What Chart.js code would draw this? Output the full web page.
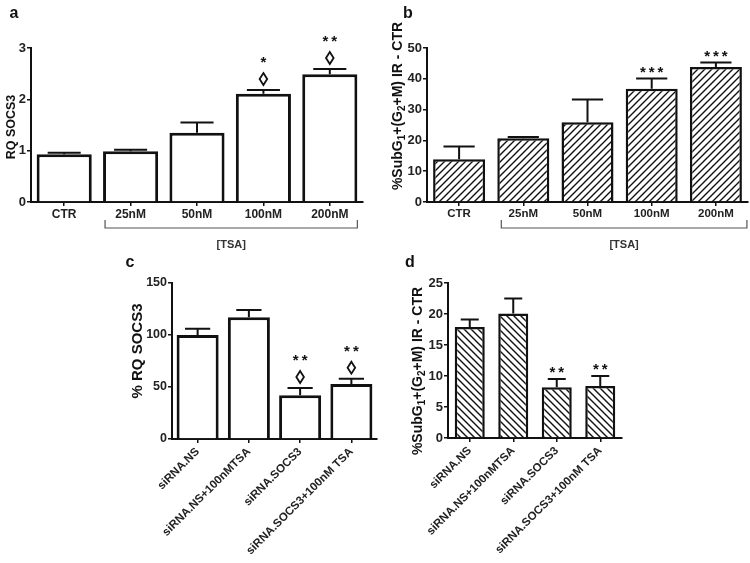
<!DOCTYPE html>
<html>
<head>
<meta charset="UTF-8">
<title>SOCS3 / TSA</title>
<script src="https://cdn.jsdelivr.net/npm/chart.js"></script>
<style>
  body { margin: 0; background: #fff; }
  #wrap { position: relative; width: 750px; height: 563px; }
  canvas { position: absolute; }
</style>
</head>
<body>
<div id="wrap">
  <canvas id="chartA" width="375" height="255" style="left:0;top:0"></canvas>
  <canvas id="chartB" width="375" height="255" style="left:375px;top:0"></canvas>
  <canvas id="chartC" width="290" height="308" style="left:100px;top:255px"></canvas>
  <canvas id="chartD" width="250" height="308" style="left:390px;top:255px"></canvas>
</div>
<script>
// panel a / b : TSA dose
const tsaLabels = ['CTR', '25nM', '50nM', '100nM', '200nM'];
const rqSocs3 = [0.93, 0.99, 1.35, 2.11, 2.49];
const rqSocs3Sem = [0.03, 0.03, 0.20, 0.07, 0.10];
const rqSocs3Stars = ['', '', '', '*', '**'];
const rqSocs3Diamond = [false, false, false, true, true];

const subG = [13.9, 20.7, 25.9, 36.8, 43.8];
const subGSem = [4.1, 0.4, 7.4, 3.3, 1.5];
const subGStars = ['', '', '', '***', '***'];

// panel c / d : siRNA
const siLabels = ['siRNA.NS', 'siRNA.NS+100nMTSA', 'siRNA.SOCS3', 'siRNA.SOCS3+100nM TSA'];
const pctRq = [100, 117, 42, 53];
const pctRqSem = [6, 7, 7, 5];
const pctRqStars = ['', '', '**', '**'];
const pctRqDiamond = [false, false, true, true];

const siSubG = [17.9, 20.1, 8.2, 8.4];
const siSubGSem = [1.2, 2.4, 1.3, 1.6];
const siSubGStars = ['', '', '**', '**'];

const INK = '#111';
const FONT = '"Liberation Sans", Arial, sans-serif';

// hatch fill
function hatch(dir) {
  const s = 7;
  const c = document.createElement('canvas');
  c.width = s; c.height = s;
  const g = c.getContext('2d');
  g.fillStyle = '#fff';
  g.fillRect(0, 0, s, s);
  g.strokeStyle = INK;
  g.lineWidth = 1.4;
  g.beginPath();
  if (dir === '/') {
    g.moveTo(-1, s + 1); g.lineTo(s + 1, -1);
    g.moveTo(-1, 1); g.lineTo(1, -1);
    g.moveTo(s - 1, s + 1); g.lineTo(s + 1, s - 1);
  } else {
    g.moveTo(-1, -1); g.lineTo(s + 1, s + 1);
    g.moveTo(s - 1, -1); g.lineTo(s + 1, 1);
    g.moveTo(-1, s - 1); g.lineTo(1, s + 1);
  }
  g.stroke();
  return g.createPattern(c, 'repeat');
}

// error bars, stars, diamonds, letters, axis titles, bracket
const decor = {
  id: 'decor',
  afterDatasetsDraw(chart, args, o) {
    const ctx = chart.ctx;
    const meta = chart.getDatasetMeta(0);
    const ys = chart.scales.y;
    const vals = chart.data.datasets[0].data;
    ctx.save();
    ctx.strokeStyle = INK;
    ctx.fillStyle = INK;
    ctx.lineWidth = 2;
    ctx.textAlign = 'center';
    ctx.textBaseline = 'middle';
    meta.data.forEach((bar, i) => {
      const top = ys.getPixelForValue(vals[i] + o.sem[i]);
      const half = bar.width * 0.3;
      ctx.beginPath();
      ctx.moveTo(bar.x, bar.y);
      ctx.lineTo(bar.x, top);
      ctx.moveTo(bar.x - half, top);
      ctx.lineTo(bar.x + half, top);
      ctx.stroke();
      let starY = top - 10;
      if (o.diamonds && o.diamonds[i]) {
        const cy = top - 11;
        ctx.beginPath();
        ctx.moveTo(bar.x, cy - 6);
        ctx.lineTo(bar.x + 3.8, cy);
        ctx.lineTo(bar.x, cy + 6);
        ctx.lineTo(bar.x - 3.8, cy);
        ctx.closePath();
        ctx.lineWidth = 1.8;
        ctx.stroke();
        ctx.lineWidth = 2;
        starY = top - 31;
      }
      if (o.stars[i]) {
        ctx.font = 'bold 15px ' + FONT;
        ctx.fillText(o.stars[i].split('').join('\u2009'), bar.x, starY + 4);
      }
    });
    ctx.restore();
  },
  afterDraw(chart, args, o) {
    const ctx = chart.ctx;
    const area = chart.chartArea;
    ctx.save();
    ctx.fillStyle = INK;
    // panel letter
    ctx.font = 'bold 16px ' + FONT;
    ctx.textAlign = 'center';
    ctx.textBaseline = 'middle';
    ctx.fillText(o.letter[0], o.letter[1], o.letter[2]);
    // y title, segments [text, isSub]
    const big = 'bold ' + o.titleSize + 'px ' + FONT;
    const small = 'bold ' + Math.round(o.titleSize * 0.7) + 'px ' + FONT;
    let total = 0;
    o.title.forEach(s => { ctx.font = s[1] ? small : big; total += ctx.measureText(s[0]).width; });
    ctx.translate(o.titlePos[0], o.titlePos[1]);
    ctx.rotate(-Math.PI / 2);
    ctx.textAlign = 'left';
    let x = -total / 2;
    o.title.forEach(s => {
      ctx.font = s[1] ? small : big;
      ctx.fillText(s[0], x, s[1] ? 4 : 0);
      x += ctx.measureText(s[0]).width;
    });
    ctx.restore();
    // bracket under the TSA doses
    if (o.bracket) {
      const meta = chart.getDatasetMeta(0);
      const b1 = meta.data[1], bN = meta.data[meta.data.length - 1];
      const x1 = b1.x - b1.width / 2 + o.bracket[0];
      const x2 = bN.x + bN.width / 2 + o.bracket[1];
      const y1 = area.bottom + 18, y2 = area.bottom + 26;
      ctx.save();
      ctx.strokeStyle = '#555';
      ctx.lineWidth = 1.2;
      ctx.beginPath();
      ctx.moveTo(x1, y1); ctx.lineTo(x1, y2); ctx.lineTo(x2, y2); ctx.lineTo(x2, y1);
      ctx.stroke();
      ctx.fillStyle = '#333';
      ctx.font = 'bold 11px ' + FONT;
      ctx.textAlign = 'center';
      ctx.textBaseline = 'middle';
      ctx.fillText('[TSA]', (x1 + x2) / 2, area.bottom + 43);
      ctx.restore();
    }
  }
};

function makePanel(id, p) {
  const cv = document.getElementById(id);
  return new Chart(cv, {
    type: 'bar',
    data: {
      labels: p.labels,
      datasets: [{
        data: p.values,
        backgroundColor: p.fill,
        borderColor: INK,
        borderWidth: p.border,
        borderSkipped: 'bottom',
        barPercentage: p.barPct,
        categoryPercentage: 1
      }]
    },
    options: {
      responsive: false,
      animation: false,
      devicePixelRatio: 1,
      layout: { padding: { left: 0, top: p.box[1], right: cv.width - p.box[2], bottom: 0 } },
      plugins: {
        legend: { display: false },
        tooltip: { enabled: false },
        decor: {
          sem: p.sem, stars: p.stars, diamonds: p.diamonds,
          letter: p.letter, title: p.title, titleSize: p.titleSize, titlePos: p.titlePos,
          bracket: p.bracket
        }
      },
      scales: {
        x: {
          afterFit: s => { s.height = cv.height - p.box[3]; },
          border: { display: true, color: INK, width: 2 },
          grid: { display: true, offset: false, drawOnChartArea: false, drawTicks: true, tickLength: 4, color: INK, lineWidth: 1.5 },
          ticks: {
            color: '#222', autoSkip: false, padding: p.rot ? 2 : 1,
            minRotation: p.rot, maxRotation: p.rot,
            font: { family: FONT, weight: 'bold', size: p.xFont }
          }
        },
        y: {
          min: 0, max: p.yMax,
          afterFit: s => { s.width = p.box[0]; },
          border: { display: true, color: INK, width: 2 },
          grid: { display: true, drawOnChartArea: false, drawTicks: true, tickLength: 4, color: INK, lineWidth: 1.5 },
          ticks: { stepSize: p.yStep, color: '#222', padding: 1, font: { family: FONT, weight: 'bold', size: p.yFont } }
        }
      }
    },
    plugins: [decor]
  });
}

const subTitle = [['%SubG', 0], ['1', 1], ['+(G', 0], ['2', 1], ['+M) IR - CTR', 0]];

makePanel('chartA', {
  labels: tsaLabels, values: rqSocs3, sem: rqSocs3Sem, stars: rqSocs3Stars, diamonds: rqSocs3Diamond,
  fill: '#fff', border: 3, barPct: 0.83, yMax: 3, yStep: 1,
  box: [31, 48, 363, 202], rot: 0, xFont: 12, yFont: 13,
  letter: ['a', 14, 14], title: [['RQ SOCS3', 0]], titleSize: 12.5, titlePos: [12, 127],
  bracket: [2, 0]
});

makePanel('chartB', {
  labels: tsaLabels, values: subG, sem: subGSem, stars: subGStars, diamonds: null,
  fill: hatch('/'), border: 2.5, barPct: 0.81, yMax: 50, yStep: 10,
  box: [52, 48, 373, 202], rot: 0, xFont: 11.5, yFont: 13,
  letter: ['b', 33, 14], title: subTitle, titleSize: 14, titlePos: [23, 106],
  bracket: [4, 5]
});

makePanel('chartC', {
  labels: siLabels, values: pctRq, sem: pctRqSem, stars: pctRqStars, diamonds: pctRqDiamond,
  fill: '#fff', border: 3, barPct: 0.82, yMax: 150, yStep: 50,
  box: [72, 28, 277, 184], rot: 45, xFont: 11.5, yFont: 12.5,
  letter: ['c', 30, 8], title: [['% RQ SOCS3', 0]], titleSize: 15, titlePos: [38, 96],
  bracket: null
});

makePanel('chartD', {
  labels: siLabels, values: siSubG, sem: siSubGSem, stars: siSubGStars, diamonds: null,
  fill: hatch('\\'), border: 2.5, barPct: 0.69, yMax: 25, yStep: 5,
  box: [58, 28, 232, 183], rot: 45, xFont: 11.5, yFont: 13,
  letter: ['d', 20, 8], title: subTitle, titleSize: 14, titlePos: [28, 116],
  bracket: null
});
</script>
</body>
</html>
